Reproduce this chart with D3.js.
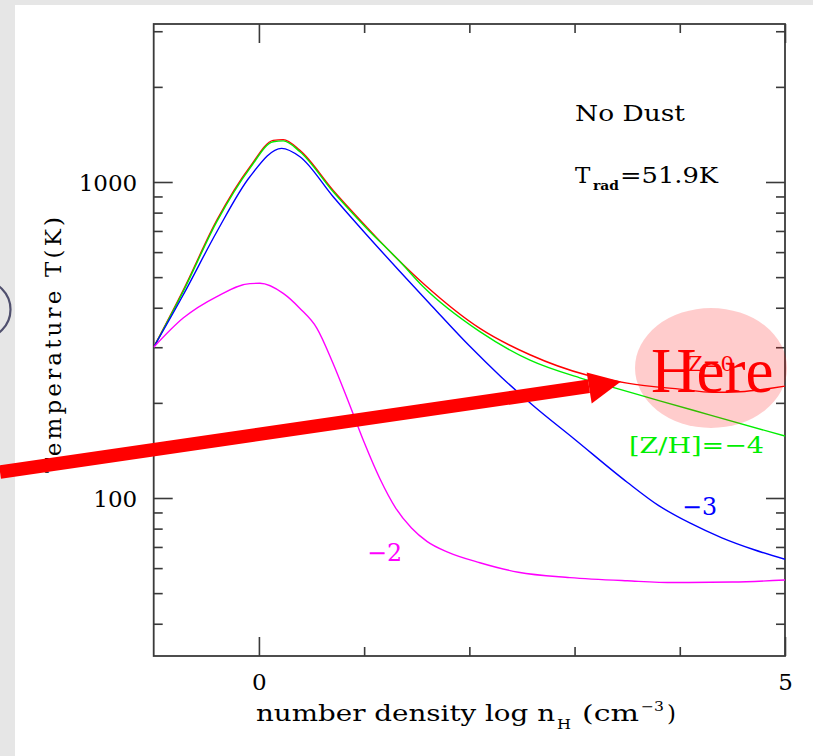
<!DOCTYPE html>
<html><head><meta charset="utf-8">
<script src="https://cdn.jsdelivr.net/npm/d3@7"></script>
<style>
body{margin:0;background:#e6e6e6;overflow:hidden}
text{font-family:"DejaVu Serif",serif}
</style>
</head><body><svg id="c" width="813" height="756"></svg>
<script>
// ---------- data ----------
const xMajorTicks = [0, 5];
const xMinorTicks = [1, 2, 3, 4];
const yMajorTicks = [100, 1000];
const yMinorTicks = [40, 50, 60, 70, 80, 90, 200, 300, 400, 500, 600, 700, 800, 900, 2000, 3000];

// [Z/H] = 0 (red)
const z0_logn = [-1, -0.72, -0.40, -0.086, 0.136, 0.231, 0.39, 0.706, 1.023, 1.15, 1.578, 2.10, 2.576, 3.115, 3.50, 4.0, 4.32, 4.57, 5.0];
const z0_T    = [300, 454, 757, 1116, 1354, 1362, 1259, 940, 721, 650, 472, 344, 284, 245, 231, 221, 216, 217, 226];
// [Z/H] = -4 (green)
const z4_logn = [-1, -0.72, -0.40, -0.086, 0.136, 0.231, 0.39, 0.706, 1.023, 1.34, 1.562, 2.10, 2.576, 3.05, 3.365, 3.81, 4.29, 5.0];
const z4_T    = [300, 450, 749, 1105, 1341, 1349, 1247, 931, 714, 560, 466, 336, 273, 240, 224, 203, 183, 157];
// [Z/H] = -3 (blue)
const z3_logn = [-1, -0.72, -0.40, -0.086, 0.216, 0.39, 0.706, 1.023, 1.34, 1.65, 2.0, 2.3, 2.6, 3.0, 3.5, 3.8, 4.1, 4.4, 4.7, 5.0];
const z3_T    = [300, 439, 696, 1039, 1278, 1202, 898, 681, 521, 403, 303, 242, 197, 153.5, 112.2, 94.6, 83.2, 74.8, 68.7, 64.0];
// [Z/H] = -2 (magenta)
const z2_logn = [-1, -0.72, -0.40, -0.086, 0.01, 0.231, 0.39, 0.55, 0.70, 0.85, 1.00, 1.15, 1.30, 1.45, 1.60, 1.80, 2.10, 2.466, 2.956, 3.5, 3.945, 4.5, 5.0];
const z2_T    = [300, 371, 434, 477, 478, 444, 398, 345, 269, 202, 150, 115, 92.9, 80.4, 72.8, 67.3, 62.4, 58.2, 56.0, 54.7, 54.0, 54.2, 55.0];

const seriesLabels = ["Z=0", "[Z/H]=\u22124", "\u22123", "\u22122"];
const seriesColors = ["#ff0000", "#00ee00", "#0000ff", "#ff00ff"];

// ---------- layout ----------
const svg = d3.select("#c");
const L = 153.7, R = 785, T = 24, B = 656;
const x = d3.scaleLinear().domain([-1, 5]).range([L, R]);
const y = d3.scaleLog().domain([Math.pow(10, 1.5), Math.pow(10, 3.5)]).range([B, T]);

// background
svg.append("rect").attr("x", 0).attr("y", 0).attr("width", 813).attr("height", 756).attr("fill", "#e6e6e6");
svg.append("rect").attr("x", 15).attr("y", 5).attr("width", 798).attr("height", 751).attr("fill", "#ffffff");

// clip
svg.append("clipPath").attr("id", "plotclip").append("rect")
  .attr("x", L).attr("y", T).attr("width", R - L).attr("height", B - T);

const axisColor = "#3a3a3a";
function styleAxis(g) {
  g.select(".domain").remove();
  g.selectAll(".tick line").attr("stroke", axisColor).attr("stroke-width", 1.6);
  g.selectAll(".tick text").attr("fill", "#000").style("font-size", "23px")
    .style("font-family", '"DejaVu Serif", serif');
}

// bottom
svg.append("g").attr("transform", `translate(0,${B})`)
  .call(d3.axisBottom(x).tickValues(xMajorTicks).tickSize(-19).tickFormat(d3.format("d")))
  .call(styleAxis)
  .call(g => g.selectAll(".tick text").attr("y", 34).attr("dy", 0));
svg.append("g").attr("transform", `translate(0,${B})`)
  .call(d3.axisBottom(x).tickValues(xMinorTicks).tickSize(-9).tickFormat(""))
  .call(styleAxis);
// top
svg.append("g").attr("transform", `translate(0,${T})`)
  .call(d3.axisTop(x).tickValues(xMajorTicks).tickSize(-19).tickFormat(""))
  .call(styleAxis);
svg.append("g").attr("transform", `translate(0,${T})`)
  .call(d3.axisTop(x).tickValues(xMinorTicks).tickSize(-9).tickFormat(""))
  .call(styleAxis);
// left
svg.append("g").attr("transform", `translate(${L},0)`)
  .call(d3.axisLeft(y).tickValues(yMajorTicks).tickSize(-19).tickFormat(d3.format("d")))
  .call(styleAxis)
  .call(g => g.selectAll(".tick text").attr("x", -16.5).attr("dy", 8.3));
svg.append("g").attr("transform", `translate(${L},0)`)
  .call(d3.axisLeft(y).tickValues(yMinorTicks).tickSize(-9).tickFormat(""))
  .call(styleAxis);
// right
svg.append("g").attr("transform", `translate(${R},0)`)
  .call(d3.axisRight(y).tickValues(yMajorTicks).tickSize(-19).tickFormat(""))
  .call(styleAxis);
svg.append("g").attr("transform", `translate(${R},0)`)
  .call(d3.axisRight(y).tickValues(yMinorTicks).tickSize(-9).tickFormat(""))
  .call(styleAxis);

// frame
svg.append("rect").attr("x", L).attr("y", T).attr("width", R - L).attr("height", B - T)
  .attr("fill", "none").attr("stroke", axisColor).attr("stroke-width", 1.8);

// axis titles
svg.append("text").attr("x", 256).attr("y", 721).style("font-size", "23px")
  .attr("textLength", 299).attr("lengthAdjust", "spacingAndGlyphs").text("number density log n");
svg.append("text").attr("x", 557).attr("y", 729).style("font-size", "13px")
  .attr("textLength", 14).attr("lengthAdjust", "spacingAndGlyphs").text("H");
svg.append("text").attr("x", 582).attr("y", 721).style("font-size", "23px")
  .attr("textLength", 57).attr("lengthAdjust", "spacingAndGlyphs").text("(cm");
svg.append("text").attr("x", 641).attr("y", 711).style("font-size", "13px")
  .attr("textLength", 23).attr("lengthAdjust", "spacingAndGlyphs").text("\u22123");
svg.append("text").attr("x", 667).attr("y", 721).style("font-size", "23px").text(")");

svg.append("text").attr("transform", "translate(61,473) rotate(-90)")
  .style("font-size", "23px").attr("textLength", 256).attr("lengthAdjust", "spacing")
  .text("Temperature T(K)");

// curves
const lineGen = d3.line().x(d => x(d[0])).y(d => y(d[1])).curve(d3.curveMonotoneX);
const series = [
  [z0_logn, z0_T], [z4_logn, z4_T], [z3_logn, z3_T], [z2_logn, z2_T]
];
const plotG = svg.append("g").attr("clip-path", "url(#plotclip)");
series.forEach((s, i) => {
  const pts = s[0].map((v, k) => [v, s[1][k]]);
  plotG.append("path").attr("d", lineGen(pts)).attr("fill", "none")
    .attr("stroke", seriesColors[i]).attr("stroke-width", 1.4);
});

// curve labels
svg.append("text").attr("x", 688).attr("y", 371).style("font-size", "21px")
  .attr("fill", seriesColors[0]).attr("textLength", 46).attr("lengthAdjust", "spacingAndGlyphs").text(seriesLabels[0]);
svg.append("text").attr("x", 629).attr("y", 453).style("font-size", "23px")
  .attr("fill", seriesColors[1]).attr("textLength", 135).attr("lengthAdjust", "spacingAndGlyphs").text(seriesLabels[1]);
svg.append("text").attr("x", 682).attr("y", 515).style("font-size", "24px")
  .attr("fill", seriesColors[2]).attr("textLength", 35).attr("lengthAdjust", "spacingAndGlyphs").text(seriesLabels[2]);
svg.append("text").attr("x", 367).attr("y", 561).style("font-size", "24px")
  .attr("fill", seriesColors[3]).attr("textLength", 35).attr("lengthAdjust", "spacingAndGlyphs").text(seriesLabels[3]);

// annotations
svg.append("text").attr("x", 575).attr("y", 120.5).style("font-size", "23px")
  .attr("textLength", 110).attr("lengthAdjust", "spacingAndGlyphs").text("No Dust");
svg.append("text").attr("x", 575).attr("y", 183).style("font-size", "23px").text("T");
svg.append("text").attr("x", 593).attr("y", 190).style("font-size", "12px").style("font-weight", "bold")
  .attr("textLength", 26).attr("lengthAdjust", "spacingAndGlyphs").text("rad");
svg.append("text").attr("x", 620).attr("y", 183).style("font-size", "23px")
  .attr("textLength", 98).attr("lengthAdjust", "spacingAndGlyphs").text("=51.9K");

// overlay: highlight ellipse + "Here"
svg.append("ellipse").attr("cx", 711).attr("cy", 368).attr("rx", 76).attr("ry", 60)
  .attr("fill", "#ff0000").attr("fill-opacity", 0.2);
svg.append("text").attr("x", 651).attr("y", 392).attr("fill", "#ff0000")
  .style("font-family", '"Liberation Serif", "Times New Roman", serif').style("font-size", "63px").text("Here");

// arrow
const ax0 = 0, ay0 = 472, ax1 = 589, ay1 = 386.3;
svg.append("line").attr("x1", ax0).attr("y1", ay0).attr("x2", ax1).attr("y2", ay1)
  .attr("stroke", "#ff0000").attr("stroke-width", 13.5);
svg.append("polygon").attr("points", "586.7,372.5 621,381.5 591.7,403.5").attr("fill", "#ff0000");

// partial circle at left edge
svg.append("circle").attr("cx", -18.5).attr("cy", 309.5).attr("r", 29)
  .attr("fill", "none").attr("stroke", "#50506e").attr("stroke-width", 2.2);
</script>
</body></html>
